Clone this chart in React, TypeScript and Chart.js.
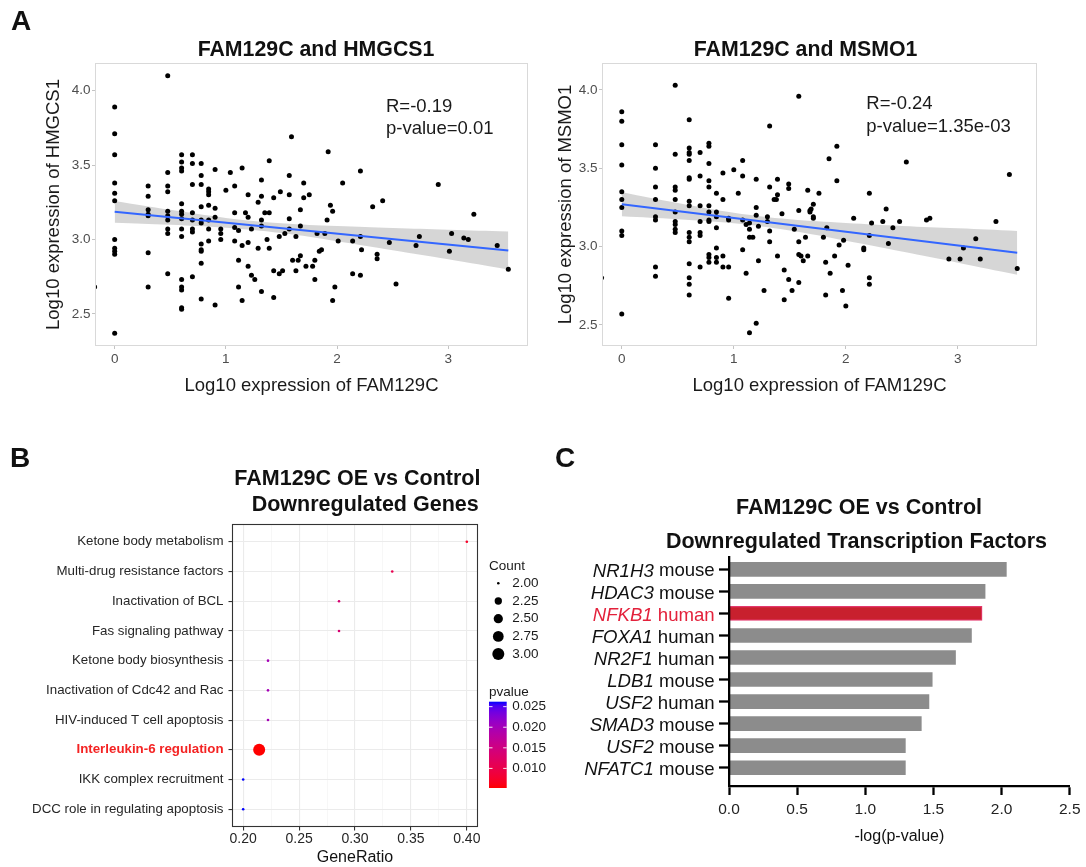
import React, { useEffect, useRef } from 'react';
import { Chart, registerables } from 'chart.js';

Chart.register(...registerables);
const FONT = '"Liberation Sans", Arial, Helvetica, sans-serif';
Chart.defaults.font.family = FONT;

// ---------------- Panel A data ----------------
const xTicksA = [0, 1, 2, 3];
const yTicksA = [2.5, 3.0, 3.5, 4.0];

const hmgcs1Points: [number, number][] = [
  [-0.18, 3.11], [-0.18, 2.76], [-0.18, 2.68],
  [0, 3.89], [0, 3.71], [0, 3.57], [0, 3.38], [0, 3.31], [0, 3.26], [0, 3.0], [0, 2.94], [0, 2.92], [0, 2.9], [0, 2.37],
  [0.301, 3.36], [0.301, 3.29], [0.301, 3.2], [0.301, 3.17], [0.301, 3.16], [0.301, 2.91], [0.301, 2.68],
  [0.477, 4.1], [0.477, 3.45], [0.477, 3.36], [0.477, 3.32], [0.477, 3.19], [0.477, 3.16], [0.477, 3.13], [0.477, 3.07], [0.477, 3.04], [0.477, 2.77],
  [0.602, 3.57], [0.602, 3.52], [0.602, 3.48], [0.602, 3.46], [0.602, 3.24], [0.602, 3.19], [0.602, 3.17], [0.602, 3.14], [0.602, 3.07], [0.602, 3.02], [0.602, 2.73], [0.602, 2.68], [0.602, 2.66], [0.602, 2.54], [0.602, 2.53],
  [0.699, 3.57], [0.699, 3.51], [0.699, 3.37], [0.699, 3.18], [0.699, 3.13], [0.699, 3.07], [0.699, 3.05], [0.699, 2.75],
  [0.778, 3.51], [0.778, 3.43], [0.778, 3.37], [0.778, 3.22], [0.778, 3.13], [0.778, 3.11], [0.778, 2.97], [0.778, 2.93], [0.778, 2.92], [0.778, 2.84], [0.778, 2.6],
  [0.845, 3.34], [0.845, 3.32], [0.845, 3.3], [0.845, 3.23], [0.845, 3.13], [0.845, 3.07], [0.845, 2.99],
  [0.903, 3.47], [0.903, 3.21], [0.903, 3.15], [0.903, 2.56],
  [0.954, 3.07], [0.954, 3.04], [0.954, 3.0],
  [1.0, 3.33], [1.04, 3.45],
  [1.079, 3.36], [1.079, 3.18], [1.079, 3.08], [1.079, 2.99],
  [1.114, 3.06], [1.114, 2.86], [1.114, 2.68],
  [1.146, 3.48], [1.146, 2.96], [1.146, 2.59],
  [1.176, 3.18],
  [1.2, 3.3], [1.2, 3.15], [1.2, 2.98], [1.2, 2.82],
  [1.23, 3.07], [1.23, 2.76], [1.26, 2.73],
  [1.29, 3.25], [1.29, 2.94],
  [1.32, 3.4], [1.32, 3.29], [1.32, 3.13], [1.32, 3.09], [1.32, 2.65],
  [1.35, 3.18], [1.37, 3.0],
  [1.39, 3.53], [1.39, 3.18], [1.39, 2.94],
  [1.43, 3.28], [1.43, 2.79], [1.43, 2.61],
  [1.48, 3.02], [1.48, 2.77], [1.49, 3.32], [1.51, 2.79], [1.53, 3.04],
  [1.57, 3.43], [1.57, 3.3], [1.57, 3.14], [1.57, 3.07],
  [1.59, 3.69], [1.6, 2.86], [1.63, 3.02], [1.63, 2.79], [1.65, 2.86],
  [1.67, 3.2], [1.67, 3.09], [1.67, 2.89], [1.7, 3.38], [1.7, 3.28],
  [1.72, 2.82], [1.75, 3.3], [1.78, 2.82], [1.8, 2.86], [1.8, 2.73],
  [1.82, 3.04], [1.84, 2.92], [1.86, 2.93], [1.89, 3.04], [1.91, 3.13], [1.92, 3.59], [1.94, 3.23],
  [1.96, 3.19], [1.96, 2.59], [1.98, 2.68], [2.01, 2.99], [2.05, 3.38],
  [2.14, 2.99], [2.14, 2.77], [2.21, 3.02], [2.21, 3.46], [2.21, 2.76], [2.22, 2.93],
  [2.32, 3.22], [2.36, 2.87], [2.36, 2.9], [2.41, 3.26], [2.47, 2.98], [2.53, 2.7],
  [2.71, 2.96], [2.74, 3.02], [2.91, 3.37], [3.01, 2.92], [3.03, 3.04], [3.14, 3.01], [3.18, 3.0], [3.23, 3.17], [3.44, 2.96], [3.54, 2.8],
];
const hmgcs1FitX = [0, 3.54];
const hmgcs1FitY = [3.186, 2.926];
const hmgcs1BandX = [0, 0.5, 1, 1.5, 2, 2.5, 3, 3.54];
const hmgcs1BandHi = [3.259, 3.199, 3.145, 3.109, 3.09, 3.077, 3.066, 3.054];
const hmgcs1BandLo = [3.113, 3.099, 3.079, 3.043, 2.988, 2.927, 2.866, 2.798];
const hmgcs1Stats = ['R=-0.19', 'p-value=0.01'];

const msmo1Points: [number, number][] = [
  [-0.18, 4.09], [-0.18, 2.92], [-0.18, 2.8],
  [0, 3.86], [0, 3.8], [0, 3.65], [0, 3.52], [0, 3.35], [0, 3.3], [0, 3.25], [0, 3.1], [0, 3.07], [0, 2.57],
  [0.301, 3.65], [0.301, 3.5], [0.301, 3.38], [0.301, 3.3], [0.301, 3.19], [0.301, 3.17], [0.301, 2.87], [0.301, 2.81],
  [0.477, 4.03], [0.477, 3.59], [0.477, 3.38], [0.477, 3.36], [0.477, 3.3], [0.477, 3.22], [0.477, 3.16], [0.477, 3.14], [0.477, 3.11], [0.477, 3.09],
  [0.602, 3.81], [0.602, 3.63], [0.602, 3.6], [0.602, 3.59], [0.602, 3.55], [0.602, 3.44], [0.602, 3.43], [0.602, 3.29], [0.602, 3.26], [0.602, 3.09], [0.602, 3.06], [0.602, 3.03], [0.602, 2.89], [0.602, 2.8], [0.602, 2.76], [0.602, 2.69],
  [0.699, 3.6], [0.699, 3.45], [0.699, 3.26], [0.699, 3.16], [0.699, 3.09], [0.699, 3.07], [0.699, 2.87],
  [0.778, 3.66], [0.778, 3.64], [0.778, 3.53], [0.778, 3.42], [0.778, 3.38], [0.778, 3.26], [0.778, 3.22], [0.778, 3.17], [0.778, 3.16], [0.778, 2.95], [0.778, 2.93], [0.778, 2.9],
  [0.845, 3.34], [0.845, 3.22], [0.845, 3.19], [0.845, 3.12], [0.845, 2.99], [0.845, 2.93], [0.845, 2.9],
  [0.903, 3.47], [0.903, 3.3], [0.903, 2.94], [0.903, 2.87],
  [0.954, 3.18], [0.954, 3.17], [0.954, 2.87], [0.954, 2.67],
  [1.0, 3.49], [1.04, 3.34],
  [1.079, 3.55], [1.079, 3.45], [1.079, 3.17], [1.079, 2.98],
  [1.11, 3.14], [1.11, 2.83],
  [1.14, 3.15], [1.14, 3.11], [1.14, 3.06], [1.14, 2.45],
  [1.17, 3.06],
  [1.2, 3.43], [1.2, 3.25], [1.2, 3.2], [1.2, 2.51],
  [1.22, 3.13], [1.22, 2.91], [1.27, 2.72],
  [1.3, 3.19], [1.3, 3.16],
  [1.32, 3.77], [1.32, 3.38], [1.32, 3.1], [1.32, 3.03],
  [1.36, 3.3], [1.38, 3.3],
  [1.39, 3.43], [1.39, 3.33], [1.39, 2.94], [1.43, 3.21],
  [1.45, 2.85], [1.45, 2.66],
  [1.49, 3.4], [1.49, 3.37], [1.49, 2.79], [1.52, 2.72], [1.54, 3.11],
  [1.58, 3.96], [1.58, 3.23], [1.58, 3.03], [1.58, 2.95], [1.58, 2.77],
  [1.6, 2.94], [1.62, 2.91], [1.64, 3.06], [1.66, 3.36], [1.66, 2.94],
  [1.68, 3.23], [1.68, 3.22], [1.69, 3.24], [1.71, 3.27], [1.71, 3.19], [1.71, 3.18],
  [1.76, 3.34], [1.8, 3.06], [1.82, 2.9], [1.82, 2.69], [1.83, 3.12], [1.85, 3.56], [1.86, 2.83], [1.9, 2.94],
  [1.92, 3.64], [1.92, 3.42], [1.94, 3.01], [1.97, 2.72], [1.98, 3.04], [2.0, 2.62], [2.02, 2.88], [2.07, 3.18],
  [2.16, 2.99], [2.16, 2.98], [2.21, 3.34], [2.21, 3.07], [2.21, 2.8], [2.21, 2.76], [2.23, 3.15],
  [2.33, 3.16], [2.36, 3.24], [2.38, 3.02], [2.42, 3.12], [2.48, 3.16], [2.54, 3.54],
  [2.72, 3.17], [2.75, 3.18], [2.92, 2.92], [3.02, 2.92], [3.05, 2.99], [3.16, 3.05], [3.2, 2.92], [3.34, 3.16], [3.46, 3.46], [3.53, 2.86],
];
const msmo1FitX = [0, 3.53];
const msmo1FitY = [3.27, 2.96];
const msmo1BandX = [0, 0.5, 1, 1.5, 2, 2.5, 3, 3.53];
const msmo1BandHi = [3.347, 3.278, 3.216, 3.174, 3.151, 3.132, 3.117, 3.1];
const msmo1BandLo = [3.193, 3.174, 3.148, 3.102, 3.037, 2.968, 2.897, 2.82];
const msmo1Stats = ['R=-0.24', 'p-value=1.35e-03'];

// ---------------- Panel B data ----------------
const termLabels = [
  'Ketone body metabolism',
  'Multi-drug resistance factors',
  'Inactivation of BCL',
  'Fas signaling pathway',
  'Ketone body biosynthesis',
  'Inactivation of Cdc42 and Rac',
  'HIV-induced T cell apoptosis',
  'Interleukin-6 regulation',
  'IKK complex recruitment',
  'DCC role in regulating apoptosis',
];
const termGeneRatio = [0.4, 0.3333, 0.2857, 0.2857, 0.2222, 0.2222, 0.2222, 0.2143, 0.2, 0.2];
const termCount = [2, 2, 2, 2, 2, 2, 2, 3, 2, 2];
const termPvalue = [0.0072, 0.0105, 0.0136, 0.0136, 0.0199, 0.0199, 0.0199, 0.00524, 0.0262, 0.0262];
const termHighlight = 'Interleukin-6 regulation';
const xTicksB = [0.2, 0.225, 0.25, 0.275, 0.3, 0.325, 0.35, 0.375, 0.4];
const countLegend = [2.0, 2.25, 2.5, 2.75, 3.0];
const pvalueLegend = [0.025, 0.02, 0.015, 0.01];

// ---------------- Panel C data ----------------
const tfGenes = ['NR1H3', 'HDAC3', 'NFKB1', 'FOXA1', 'NR2F1', 'LDB1', 'USF2', 'SMAD3', 'USF2', 'NFATC1'];
const tfSpecies = ['mouse', 'mouse', 'human', 'human', 'human', 'mouse', 'human', 'mouse', 'mouse', 'mouse'];
const tfScores = [2.035, 1.879, 1.857, 1.779, 1.662, 1.491, 1.467, 1.411, 1.294, 1.294];
const tfHighlight = 2;
const xTicksC = [0, 0.5, 1, 1.5, 2, 2.5];

// ---------------- helpers ----------------
const fontStr = (size: number, weight = 'normal', style = 'normal') => `${style} ${weight} ${size}px ${FONT}`;

function drawText(ctx: any, str: string, x: number, y: number, size: number, o: any = {}) {
  ctx.font = fontStr(size, o.weight || 'normal', o.style || 'normal');
  ctx.fillStyle = o.color || '#111';
  ctx.textAlign = o.align || 'left';
  ctx.textBaseline = o.baseline || 'alphabetic';
  ctx.fillText(str, x, y);
}

const toLin = (c: number) => (c <= 0.04045 ? c / 12.92 : Math.pow((c + 0.055) / 1.055, 2.4));
const fromLin = (c: number) => (c <= 0.0031308 ? 12.92 * c : 1.055 * Math.pow(c, 1 / 2.4) - 0.055);
function rgbToLab(rgb: number[]) {
  const R = toLin(rgb[0] / 255), G = toLin(rgb[1] / 255), B = toLin(rgb[2] / 255);
  const X = (0.4124 * R + 0.3576 * G + 0.1805 * B) / 0.95047;
  const Y = 0.2126 * R + 0.7152 * G + 0.0722 * B;
  const Z = (0.0193 * R + 0.1192 * G + 0.9505 * B) / 1.08883;
  const f = (t: number) => (t > 0.008856 ? Math.cbrt(t) : 7.787 * t + 16 / 116);
  return [116 * f(Y) - 16, 500 * (f(X) - f(Y)), 200 * (f(Y) - f(Z))];
}
function labToRgb(lab: number[]) {
  const fy = (lab[0] + 16) / 116, fx = fy + lab[1] / 500, fz = fy - lab[2] / 200;
  const inv = (t: number) => (t * t * t > 0.008856 ? t * t * t : (t - 16 / 116) / 7.787);
  const X = inv(fx) * 0.95047, Y = inv(fy), Z = inv(fz) * 1.08883;
  const R = 3.2406 * X - 1.5372 * Y - 0.4986 * Z;
  const G = -0.9689 * X + 1.8758 * Y + 0.0415 * Z;
  const B = 0.0557 * X - 0.204 * Y + 1.057 * Z;
  return [R, G, B].map((c) => Math.round(255 * Math.min(1, Math.max(0, fromLin(c)))));
}
const LOW_LAB = rgbToLab([255, 0, 0]);
const HIGH_LAB = rgbToLab([0, 0, 255]);
const pMin = Math.min(...termPvalue);
const pMax = Math.max(...termPvalue);
function pColor(p: number) {
  const t = Math.min(1, Math.max(0, (p - pMin) / (pMax - pMin)));
  const lab = LOW_LAB.map((v, i) => v + (HIGH_LAB[i] - v) * t);
  const c = labToRgb(lab);
  return `rgb(${c[0]},${c[1]},${c[2]})`;
}
const cMin = Math.min(...countLegend);
const cMax = Math.max(...countLegend);
const countRadius = (c: number) => 1.3 + 4.7 * Math.sqrt((c - cMin) / (cMax - cMin));

const isHighlightTick = (c: any) => {
  const v = c && c.tick ? c.tick.value : undefined;
  if (v === undefined) return false;
  return termLabels[termLabels.length - v] === termHighlight;
};

// ---------------- Panel A config ----------------
function scatterConfig(s: any) {
  return {
    type: 'scatter',
    data: {
      datasets: [
        {
          type: 'line', data: s.bandX.map((x: number, i: number) => ({ x, y: s.bandHi[i] })),
          borderColor: 'rgba(0,0,0,0)', borderWidth: 0, pointRadius: 0, fill: '+1',
          backgroundColor: 'rgba(153,153,153,0.4)', tension: 0.4, order: 3,
        },
        {
          type: 'line', data: s.bandX.map((x: number, i: number) => ({ x, y: s.bandLo[i] })),
          borderColor: 'rgba(0,0,0,0)', borderWidth: 0, pointRadius: 0, fill: false, tension: 0.4, order: 3,
        },
        {
          type: 'scatter', data: s.points.map((p: number[]) => ({ x: p[0], y: p[1] })),
          pointRadius: 2.5, pointBackgroundColor: '#000', pointBorderWidth: 0, clip: 0, order: 2,
        },
        {
          type: 'line', data: s.fitX.map((x: number, i: number) => ({ x, y: s.fitY[i] })),
          borderColor: '#3366ff', borderWidth: 2, pointRadius: 0, fill: false, order: 1,
        },
      ],
    },
    options: {
      animation: false, responsive: false, events: [],
      layout: { padding: { top: 63, right: s.padRight, left: 0, bottom: 0 } },
      plugins: { legend: { display: false }, tooltip: { enabled: false } },
      scales: {
        x: {
          type: 'linear', min: s.xRange[0], max: s.xRange[1],
          afterBuildTicks: (sc: any) => { sc.ticks = xTicksA.map((v) => ({ value: v })); },
          afterFit: (sc: any) => { sc.height = 74; },
          ticks: { autoSkip: false, maxRotation: 0, callback: (v: any) => String(v), color: '#4d4d4d', font: { size: 13.5 }, padding: 2 },
          grid: { drawOnChartArea: false, drawTicks: true, tickLength: 3, tickColor: '#c4c4c4' },
          border: { display: false },
          title: { display: true, text: 'Log10 expression of FAM129C', color: '#1a1a1a', font: { size: 18.5 }, padding: { top: 0, bottom: 22.9 } },
        },
        y: {
          type: 'linear', min: s.yRange[0], max: s.yRange[1],
          afterBuildTicks: (sc: any) => { sc.ticks = yTicksA.map((v) => ({ value: v })); },
          afterFit: (sc: any) => { sc.width = s.yAxisW; },
          ticks: { autoSkip: false, callback: (v: any) => Number(v).toFixed(1), color: '#4d4d4d', font: { size: 13.5 }, padding: 1.5 },
          grid: { drawOnChartArea: false, drawTicks: true, tickLength: 3, tickColor: '#c4c4c4' },
          border: { display: false },
          title: { display: true, text: s.yTitle, color: '#1a1a1a', font: { size: 18.5 }, padding: { top: s.yTitlePad, bottom: 0 } },
        },
      },
    },
    plugins: [
      {
        id: 'scatterDecor',
        afterDatasetsDraw(chart: any) {
          const { ctx, chartArea: a } = chart;
          ctx.save();
          ctx.strokeStyle = '#d9d9d9';
          ctx.lineWidth = 1;
          ctx.strokeRect(a.left + 0.5, a.top + 0.5, a.right - a.left - 1, a.bottom - a.top - 1);
          ctx.restore();
        },
        afterDraw(chart: any) {
          const { ctx } = chart;
          ctx.save();
          drawText(ctx, s.title, s.titleX, 56, 21.3, { weight: 'bold', align: 'center', color: '#111' });
          const px = chart.scales.x.getPixelForValue(s.statX);
          s.stats.forEach((t: string, i: number) => {
            drawText(ctx, t, px, chart.scales.y.getPixelForValue(s.statY[i]), 18.5, { color: '#1a1a1a' });
          });
          if (s.letter) drawText(ctx, s.letter, 11, 30, 28, { weight: 'bold', color: '#111' });
          ctx.restore();
        },
      },
    ],
  };
}

// ---------------- Panel B config ----------------
function dotConfig() {
  const yOf = (i: number) => termLabels.length - i;
  return {
    type: 'scatter',
    data: {
      datasets: [
        {
          data: termLabels.map((_, i) => ({ x: termGeneRatio[i], y: yOf(i) })),
          pointRadius: termCount.map(countRadius),
          pointBackgroundColor: termPvalue.map(pColor),
          pointBorderWidth: 0,
        },
      ],
    },
    options: {
      animation: false, responsive: false, events: [],
      layout: { padding: { top: 84, right: 82, left: 0, bottom: 0 } },
      plugins: { legend: { display: false }, tooltip: { enabled: false } },
      scales: {
        x: {
          type: 'linear', min: 0.19, max: 0.41,
          afterBuildTicks: (sc: any) => { sc.ticks = xTicksB.map((v) => ({ value: v })); },
          afterFit: (sc: any) => { sc.height = 40; },
          ticks: {
            autoSkip: false, maxRotation: 0, color: '#262626', font: { size: 14 }, padding: 0,
            callback: (v: any, i: number) => (i % 2 === 0 ? Number(v).toFixed(2) : ''),
          },
          grid: {
            color: (c: any) => ((c.index || 0) % 2 === 0 ? '#ebebeb' : '#f4f4f4'),
            lineWidth: (c: any) => ((c.index || 0) % 2 === 0 ? 1.1 : 0.7),
            tickColor: (c: any) => ((c.index || 0) % 2 === 0 ? '#333' : 'rgba(0,0,0,0)'),
            tickLength: 3.5,
          },
          border: { display: false },
          title: { display: true, text: 'GeneRatio', color: '#111', font: { size: 16 }, padding: { top: 0, bottom: 0 } },
        },
        y: {
          type: 'linear', min: 0.4, max: 10.6,
          afterBuildTicks: (sc: any) => { sc.ticks = termLabels.map((_, i) => ({ value: yOf(i) })); },
          afterFit: (sc: any) => { sc.width = 232; },
          ticks: {
            autoSkip: false, padding: 5,
            callback: (v: any) => termLabels[termLabels.length - Number(v)],
            color: (c: any) => (isHighlightTick(c) ? '#f42323' : '#262626'),
            font: (c: any) => ({ size: 13.3, weight: isHighlightTick(c) ? 'bold' : 'normal' }),
          },
          grid: { color: '#ebebeb', lineWidth: 1.1, tickColor: '#333', tickLength: 3.5 },
          border: { display: false },
        },
      },
    },
    plugins: [
      {
        id: 'dotDecor',
        afterDatasetsDraw(chart: any) {
          const { ctx, chartArea: a } = chart;
          ctx.save();
          ctx.strokeStyle = '#333';
          ctx.lineWidth = 1.1;
          ctx.strokeRect(a.left + 0.5, a.top + 0.5, a.right - a.left - 1, a.bottom - a.top - 1);
          ctx.restore();
        },
        afterDraw(chart: any) {
          const { ctx } = chart;
          ctx.save();
          drawText(ctx, 'B', 10, 27, 28, { weight: 'bold', color: '#111' });
          drawText(ctx, 'FAM129C OE vs Control', 234.3, 45, 21.5, { weight: 'bold' });
          drawText(ctx, 'Downregulated Genes', 251.7, 70.5, 21.5, { weight: 'bold' });
          drawText(ctx, 'Count', 489, 130, 13.5, { color: '#1a1a1a' });
          countLegend.forEach((c, i) => {
            const y = 143.3 + i * 17.7;
            ctx.beginPath();
            ctx.fillStyle = '#000';
            ctx.arc(498.3, y, countRadius(c), 0, Math.PI * 2);
            ctx.fill();
            drawText(ctx, c.toFixed(2), 512.3, y, 13.5, { baseline: 'middle', color: '#1a1a1a' });
          });
          drawText(ctx, 'pvalue', 489, 255.7, 13.5, { color: '#1a1a1a' });
          const top = 261.7, bottom = 348, bx = 489, bw = 17.7;
          const g = ctx.createLinearGradient(0, top, 0, bottom);
          for (let k = 0; k <= 24; k++) {
            const t = k / 24;
            g.addColorStop(t, pColor(pMax - t * (pMax - pMin)));
          }
          ctx.fillStyle = g;
          ctx.fillRect(bx, top, bw, bottom - top);
          pvalueLegend.forEach((p) => {
            const y = bottom - ((p - pMin) / (pMax - pMin)) * (bottom - top);
            ctx.strokeStyle = 'rgba(255,255,255,0.9)';
            ctx.lineWidth = 1;
            ctx.beginPath();
            ctx.moveTo(bx, y); ctx.lineTo(bx + 3.5, y);
            ctx.moveTo(bx + bw - 3.5, y); ctx.lineTo(bx + bw, y);
            ctx.stroke();
            drawText(ctx, p.toFixed(3), 512.3, y, 13.5, { baseline: 'middle', color: '#1a1a1a' });
          });
          ctx.restore();
        },
      },
    ],
  };
}

// ---------------- Panel C config ----------------
function barConfig() {
  return {
    type: 'bar',
    data: {
      datasets: [
        {
          data: tfScores.map((v, i) => ({ x: v, y: i })),
          backgroundColor: tfScores.map((_, i) => (i === tfHighlight ? '#c8202e' : '#8c8c8c')),
          borderColor: tfScores.map((_, i) => (i === tfHighlight ? '#e4386c' : 'rgba(0,0,0,0)')),
          borderWidth: tfScores.map((_, i) => (i === tfHighlight ? 1.2 : 0)),
          borderSkipped: 'start',
          barThickness: 14,
        },
      ],
    },
    options: {
      indexAxis: 'y',
      animation: false, responsive: false, events: [],
      layout: { padding: { top: 117, right: 14, left: 0, bottom: 0 } },
      plugins: { legend: { display: false }, tooltip: { enabled: false } },
      scales: {
        x: {
          type: 'linear', min: 0, max: 2.5,
          afterBuildTicks: (sc: any) => { sc.ticks = xTicksC.map((v) => ({ value: v })); },
          afterFit: (sc: any) => { sc.height = 81; },
          ticks: { autoSkip: false, maxRotation: 0, color: '#222', font: { size: 15.5 }, padding: 5.5, callback: (v: any) => Number(v).toFixed(1) },
          grid: { drawOnChartArea: false, tickLength: 9, tickColor: '#000', tickWidth: 2.3 },
          border: { display: true, color: '#000', width: 2.3, z: 2 },
          title: { display: true, text: '-log(p-value)', color: '#111', font: { size: 16 }, padding: { top: 0, bottom: 20.4 } },
        },
        y: {
          type: 'linear', min: -0.56, max: 9.83, reverse: true, offset: false,
          afterBuildTicks: (sc: any) => { sc.ticks = tfGenes.map((_, i) => ({ value: i })); },
          afterFit: (sc: any) => { sc.width = 189; },
          ticks: { display: false },
          grid: { offset: false, drawOnChartArea: false, tickLength: 10, tickColor: '#000', tickWidth: 2.3 },
          border: { display: true, color: '#000', width: 2.3, z: 2 },
        },
      },
    },
    plugins: [
      {
        id: 'barDecor',
        afterDraw(chart: any) {
          const { ctx } = chart;
          ctx.save();
          drawText(ctx, 'C', 15, 27, 28, { weight: 'bold', color: '#111' });
          drawText(ctx, 'FAM129C OE vs Control', 319, 74.3, 21.5, { weight: 'bold', align: 'center' });
          drawText(ctx, 'Downregulated Transcription Factors', 316.5, 107.7, 21.5, { weight: 'bold', align: 'center' });
          const right = chart.chartArea.left - 14.3;
          tfGenes.forEach((gname, i) => {
            const y = chart.scales.y.getPixelForValue(i) + 2;
            const color = i === tfHighlight ? '#e3213b' : '#111';
            const sp = ' ' + tfSpecies[i];
            ctx.font = fontStr(18.6);
            const w = ctx.measureText(sp).width;
            drawText(ctx, sp, right, y, 18.6, { align: 'right', baseline: 'middle', color });
            drawText(ctx, gname, right - w, y, 18.6, { style: 'italic', align: 'right', baseline: 'middle', color });
          });
          ctx.restore();
        },
      },
    ],
  };
}

// ---------------- components ----------------
function ChartCanvas(props: { make: () => any; left: number; top: number; width: number; height: number }) {
  const ref = useRef<HTMLCanvasElement>(null);
  useEffect(() => {
    let chart: any = null;
    try {
      chart = new Chart(ref.current as HTMLCanvasElement, props.make());
    } catch (e) {
      console.error(e);
    }
    return () => { if (chart) chart.destroy(); };
  }, []);
  return (
    <canvas
      ref={ref}
      width={props.width}
      height={props.height}
      style={{ position: 'absolute', left: props.left, top: props.top, width: props.width, height: props.height }}
    />
  );
}

const hmgcs1Spec = {
  points: hmgcs1Points, fitX: hmgcs1FitX, fitY: hmgcs1FitY, bandX: hmgcs1BandX, bandHi: hmgcs1BandHi, bandLo: hmgcs1BandLo,
  stats: hmgcs1Stats, statX: 2.44, statY: [3.856, 3.711], xRange: [-0.177, 3.717], yRange: [2.2835, 4.1865],
  title: 'FAM129C and HMGCS1', yTitle: 'Log10 expression of HMGCS1', titleX: 316, padRight: 32, yAxisW: 95, yTitlePad: 42.9, letter: 'A',
};
const msmo1Spec = {
  points: msmo1Points, fitX: msmo1FitX, fitY: msmo1FitY, bandX: msmo1BandX, bandHi: msmo1BandHi, bandLo: msmo1BandLo,
  stats: msmo1Stats, statX: 2.183, statY: [3.877, 3.734], xRange: [-0.1765, 3.7065], yRange: [2.365, 4.172],
  title: 'FAM129C and MSMO1', yTitle: 'Log10 expression of MSMO1', titleX: 265.6, padRight: 49, yAxisW: 62, yTitlePad: 14.9, letter: '',
};

export default function App() {
  return (
    <div style={{ position: 'fixed', left: 0, top: 0, width: 1086, height: 867, background: '#fff', overflow: 'hidden' }}>
      <ChartCanvas make={() => scatterConfig(hmgcs1Spec)} left={0} top={0} width={560} height={420} />
      <ChartCanvas make={() => scatterConfig(msmo1Spec)} left={540} top={0} width={546} height={420} />
      <ChartCanvas make={dotConfig} left={0} top={440} width={560} height={427} />
      <ChartCanvas make={barConfig} left={540} top={440} width={546} height={427} />
    </div>
  );
}
